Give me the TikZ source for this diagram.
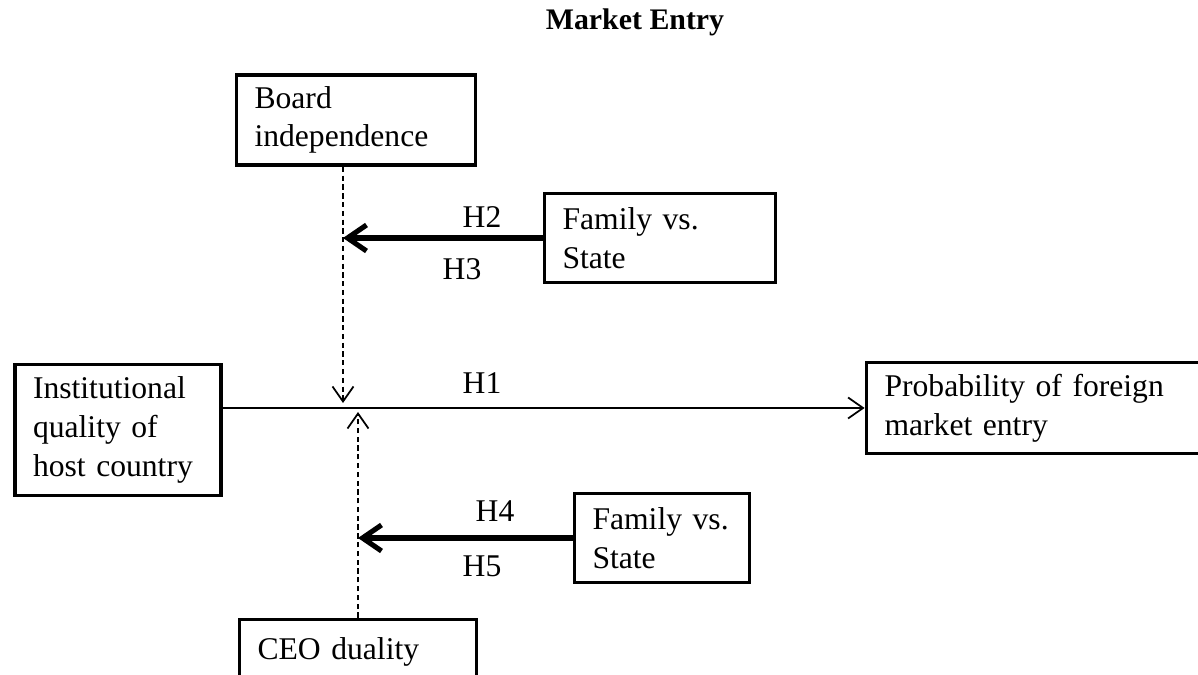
\documentclass[tikz,border=0pt]{standalone}
\usepackage{fontspec}
\setmainfont{Liberation Serif}
\usetikzlibrary{arrows.meta,positioning}

\tikzset{
  varbox/.style={draw, line width=2.2pt, align=left, inner xsep=0.36cm, inner ysep=0pt},
  link/.style={line width=1pt, -{Straight Barb[length=0.3cm,width=0.42cm]}},
  modlink/.style={link, line width=1pt, dash pattern=on 3pt off 2pt},
  famarrow/.style={line width=2.9pt, -{Straight Barb[length=0.38cm,width=0.52cm]}}
}

\begin{document}
\begin{tikzpicture}[x=0.02cm, y=-0.02cm, font=\fontsize{18}{22}\selectfont]
\clip (0,0) rectangle (1198,675);
\node[font=\fontsize{17}{22}\selectfont\bfseries] (title) at (635,22) {Market Entry};
% boxes
\node[varbox, text width=4.06cm, minimum height=1.8cm] (board) at (356,120) {Board\\independence};
\node[varbox, text width=3.9cm, minimum height=1.78cm] (famtop) at (660,238) {Family vs.\\State};
\node[varbox, text width=3.4cm, minimum height=2.62cm] (inst) at (118,430) {Institutional\\quality of\\host country};
\node[varbox, text width=6.14cm, minimum height=1.82cm] (prob) at (1038,408) {Probability of foreign\\market entry};
\node[varbox, text width=2.78cm, minimum height=1.78cm] (fambot) at (662,538) {Family vs.\\State};
\node[varbox, text width=4.02cm, minimum height=1.3cm] (ceo) at (358,652) {CEO duality};
% arrow ends on the main path
\coordinate (mtop) at (343,403);
\coordinate (mbot) at (358,412);
% links
\draw[link] (inst.east |- prob.west) -- (prob.west);
\draw[modlink] (board.south -| mtop) -- (mtop);
\draw[modlink] (ceo.north) -- (mbot);
\draw[famarrow] (famtop.west) -- (famtop.west -| mtop);
\draw[famarrow] (fambot.west) -- (fambot.west -| mbot);
% hypotheses
\node (h1) at (482,383) {H1};
\node (h2) at (482,217) {H2};
\node (h3) at (462,269) {H3};
\node (h4) at (495,511) {H4};
\node (h5) at (482,566) {H5};
\end{tikzpicture}
\end{document}
